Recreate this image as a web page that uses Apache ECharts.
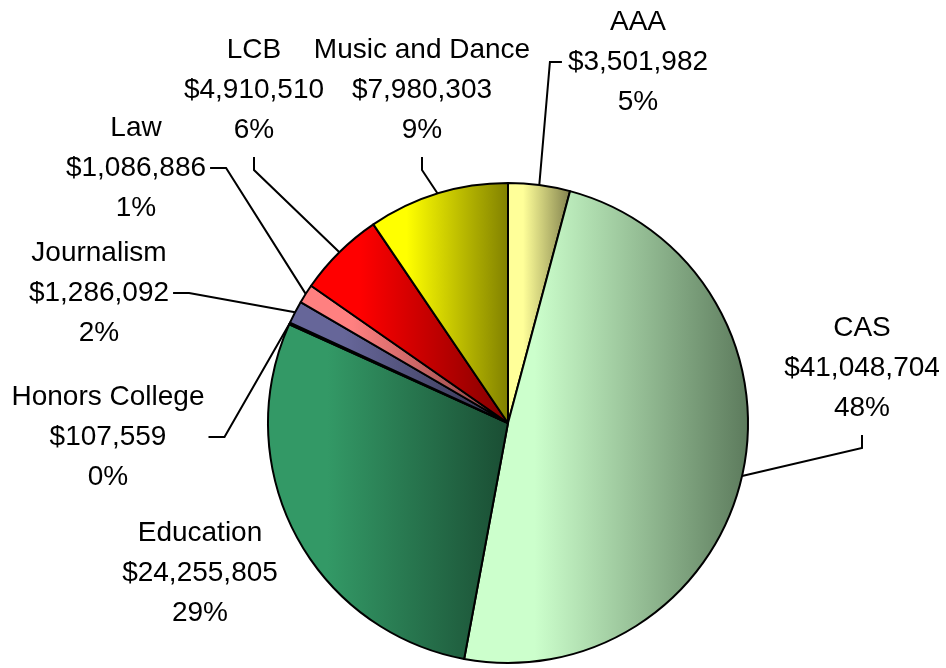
<!DOCTYPE html>
<html>
<head>
<meta charset="utf-8">
<script src="https://cdn.jsdelivr.net/npm/echarts@6/dist/echarts.min.js"></script>
<style>
  html, body { margin: 0; padding: 0; background: #fff; }
  #chart { width: 946px; height: 668px; }
</style>
</head>
<body>
<div id="chart"></div>
<script>
// slices, clockwise from 12 o'clock
const names = ['AAA', 'CAS', 'Education', 'Honors College', 'Journalism', 'Law', 'LCB', 'Music and Dance']
const amounts = [3501982, 41048704, 24255805, 107559, 1286092, 1086886, 4910510, 7980303]
const shares = [5, 48, 29, 0, 2, 1, 6, 9] // percent as printed on the chart

// fill colours (light side) and the darker shade each slice fades to
const lightColors = ['#ffff99', '#ccffcc', '#339966', '#000000', '#666699', '#ff8080', '#ff0000', '#ffff00']
const darkColors = ['#80804d', '#5c7a5c', '#1a4d33', '#000000', '#33334d', '#804040', '#800000', '#808000']

// pie placement
const pieCenter = [508, 423]
const pieRadius = 240

// label centres in px and the side the leader line leaves from
const labelPos = [
  [638, 62], [862, 368], [200, 573], [108, 437],
  [99, 293], [136, 168], [254, 90], [422, 90],
]
const leaderSide = ['left', 'bottom', 'none', 'right', 'right', 'right', 'bottom', 'bottom']

const chart = echarts.init(document.getElementById('chart'))

// mid angle of every slice (radians, clockwise from 12 o'clock)
const total = amounts.reduce((a, b) => a + b, 0)
const midAngles = []
let acc = 0
amounts.forEach((v) => {
  midAngles.push(((acc + v / 2) / total) * Math.PI * 2)
  acc += v
})

const seriesData = names.map((name, i) => {
  const item = {
    name,
    value: amounts[i],
    itemStyle: {
      color: new echarts.graphic.LinearGradient(0, 0, 1, 0, [
        { offset: 0, color: lightColors[i] },
        { offset: 0.25, color: lightColors[i] },
        { offset: 1, color: darkColors[i] },
      ]),
    },
  }
  if (leaderSide[i] === 'none') {
    item.labelLine = { show: false } // label sits right next to the slice
  }
  return item
})

const options = {
  backgroundColor: '#ffffff',
  animation: false,
  series: [
    {
      type: 'pie',
      center: pieCenter,
      radius: pieRadius,
      startAngle: 90,
      clockwise: true,
      avoidLabelOverlap: false,
      data: seriesData,
      itemStyle: {
        borderColor: '#000000',
        borderWidth: 2,
      },
      label: {
        show: true,
        position: 'outside',
        color: '#000000',
        fontFamily: 'Liberation Sans, Arial, sans-serif',
        fontSize: 28,
        lineHeight: 40,
        formatter(params) {
          const i = params.dataIndex
          return `${params.name}\n$${amounts[i].toLocaleString('en-US')}\n${shares[i]}%`
        },
      },
      labelLine: {
        show: true,
        length: 10,
        length2: 10,
        smooth: false,
        lineStyle: {
          color: '#000000',
          width: 2,
        },
      },
      labelLayout(params) {
        const i = params.dataIndex
        const [x, y] = labelPos[i]
        const w = params.labelRect.width
        const h = params.labelRect.height
        const a = midAngles[i]
        // leader starts on the rim at the middle of the slice
        const anchor = [pieCenter[0] + pieRadius * Math.sin(a), pieCenter[1] - pieRadius * Math.cos(a)]
        let end
        let elbow
        const side = leaderSide[i]
        if (side === 'left') {
          end = [x - w / 2 - 6, y]
          elbow = [end[0] - 12, y]
        } else if (side === 'right') {
          end = [x + w / 2 + 4, y]
          elbow = [end[0] + 16, y]
        } else {
          end = [x, y + h / 2 + 7]
          elbow = [x, end[1] + 13]
        }
        return {
          x,
          y,
          align: 'center',
          verticalAlign: 'middle',
          labelLinePoints: [anchor, elbow, end],
        }
      },
      emphasis: { disabled: true },
    },
  ],
}

chart.setOption(options, true)
</script>
</body>
</html>
